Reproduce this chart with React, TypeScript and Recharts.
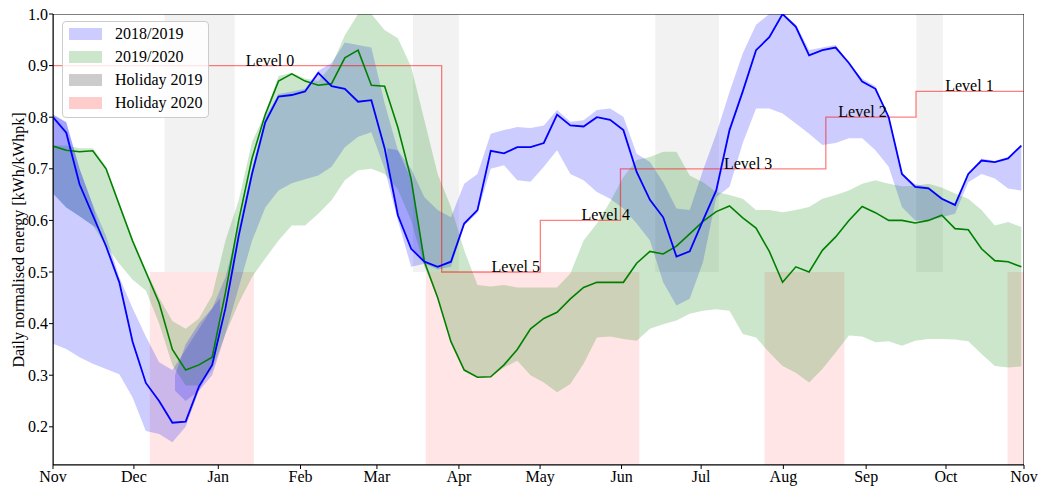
import React from "react"
import { ComposedChart, Area, Line, XAxis, YAxis, ReferenceArea, ReferenceDot } from "recharts"

// day 0 = 1 Nov, one sample every 5 days
const sampleDays = Array.from({ length: 74 }, (_, i) => i * 5)

// month tick positions (days from left edge)
const monthTicks = [0, 30.5, 62.3, 93.3, 122.1, 153, 183.6, 214.3, 244.3, 275.3, 306.5, 336.6, 366]
const monthLabels = ["Nov", "Dec", "Jan", "Feb", "Mar", "Apr", "May", "Jun", "Jul", "Aug", "Sep", "Oct", "Nov"]
const yTicks = [0.2, 0.3, 0.4, 0.5, 0.6, 0.7, 0.8, 0.9, 1.0]

const line2019 = [
  0.80, 0.77, 0.67, 0.61, 0.55, 0.48, 0.365, 0.285, 0.25, 0.208,
  0.21, 0.278, 0.32, 0.43, 0.57, 0.69, 0.79, 0.84, 0.843, 0.85,
  0.886, 0.86, 0.855, 0.83, 0.833, 0.74, 0.61, 0.545, 0.52, 0.51,
  0.52, 0.594, 0.62, 0.735, 0.73, 0.742, 0.742, 0.75, 0.805, 0.784,
  0.782, 0.80, 0.795, 0.775, 0.694, 0.64, 0.606, 0.53, 0.54, 0.60,
  0.658, 0.775, 0.85, 0.93, 0.955, 1.0, 0.975, 0.92, 0.93, 0.935,
  0.905, 0.869, 0.855, 0.80, 0.69, 0.665, 0.662, 0.642, 0.63, 0.69,
  0.716, 0.713, 0.72, 0.745,
]
const line2020 = [
  0.744, 0.736, 0.733, 0.735, 0.70, 0.63, 0.56, 0.50, 0.44, 0.35,
  0.31, 0.32, 0.335, 0.46, 0.60, 0.72, 0.805, 0.87, 0.884, 0.87,
  0.862, 0.865, 0.915, 0.93, 0.862, 0.86, 0.78, 0.68, 0.52, 0.45,
  0.365, 0.31, 0.296, 0.297, 0.32, 0.35, 0.39, 0.41, 0.422, 0.448,
  0.47, 0.48, 0.48, 0.48, 0.517, 0.54, 0.535, 0.55, 0.574, 0.598,
  0.617, 0.628, 0.605, 0.585, 0.54, 0.48, 0.51, 0.50, 0.542, 0.568,
  0.60, 0.627, 0.615, 0.60, 0.60, 0.595, 0.60, 0.61, 0.584, 0.582,
  0.545, 0.522, 0.52, 0.51,
]
const hi2019 = [
  0.805, 0.79, 0.70, 0.63, 0.57, 0.49, 0.43, 0.375, 0.325, 0.31,
  0.35, 0.39, 0.43, 0.49, 0.59, 0.70, 0.80, 0.845, 0.85, 0.855,
  0.89, 0.905, 0.945, 0.94, 0.935, 0.827, 0.736, 0.70, 0.645, 0.62,
  0.606, 0.671, 0.69, 0.768, 0.775, 0.781, 0.779, 0.784, 0.814, 0.791,
  0.794, 0.814, 0.817, 0.801, 0.729, 0.713, 0.674, 0.623, 0.62, 0.697,
  0.768, 0.849, 0.924, 0.979, 1.0, 1.0, 0.98, 0.93, 0.935, 0.94,
  0.905, 0.875, 0.86, 0.80, 0.69, 0.67, 0.665, 0.645, 0.63, 0.69,
  0.72, 0.715, 0.723, 0.746,
]
const lo2019 = [
  0.361, 0.351, 0.335, 0.322, 0.312, 0.302, 0.257, 0.192, 0.186, 0.17,
  0.20, 0.27, 0.30, 0.38, 0.47, 0.56, 0.625, 0.658, 0.672, 0.68,
  0.687, 0.704, 0.742, 0.762, 0.771, 0.70, 0.60, 0.51, 0.516, 0.505,
  0.51, 0.59, 0.615, 0.70, 0.707, 0.678, 0.675, 0.704, 0.736, 0.69,
  0.678, 0.655, 0.642, 0.623, 0.594, 0.561, 0.48, 0.435, 0.448, 0.519,
  0.645, 0.665, 0.75, 0.817, 0.817, 0.807, 0.788, 0.768, 0.746, 0.75,
  0.759, 0.759, 0.736, 0.704, 0.626, 0.60, 0.60, 0.606, 0.613, 0.674,
  0.69, 0.681, 0.662, 0.658,
]
const hi2020 = [
  0.745, 0.745, 0.74, 0.74, 0.705, 0.635, 0.565, 0.505, 0.45, 0.405,
  0.39, 0.41, 0.455, 0.561, 0.639, 0.752, 0.807, 0.88, 0.886, 0.875,
  0.87, 0.90, 0.959, 1.0, 1.0, 0.969, 0.953, 0.898, 0.794, 0.69,
  0.626, 0.542, 0.475, 0.472, 0.475, 0.47, 0.47, 0.47, 0.47, 0.497,
  0.561, 0.594, 0.636, 0.684, 0.717, 0.723, 0.733, 0.733, 0.687, 0.674,
  0.655, 0.649, 0.642, 0.62, 0.62, 0.616, 0.62, 0.626, 0.642, 0.649,
  0.658, 0.671, 0.678, 0.671, 0.666, 0.667, 0.671, 0.664, 0.652, 0.642,
  0.62, 0.59, 0.597, 0.587,
]
const lo2020 = [
  0.652, 0.625, 0.608, 0.59, 0.551, 0.516, 0.485, 0.464, 0.40, 0.32,
  0.28, 0.28, 0.31, 0.38, 0.44, 0.49, 0.526, 0.561, 0.59, 0.59,
  0.613, 0.639, 0.678, 0.697, 0.70, 0.69, 0.66, 0.60, 0.51, 0.45,
  0.365, 0.31, 0.296, 0.297, 0.315, 0.328, 0.30, 0.286, 0.267, 0.283,
  0.322, 0.373, 0.375, 0.37, 0.367, 0.39, 0.399, 0.406, 0.419, 0.425,
  0.428, 0.425, 0.38, 0.373, 0.344, 0.318, 0.305, 0.286, 0.312, 0.344,
  0.377, 0.375, 0.364, 0.366, 0.357, 0.367, 0.37, 0.37, 0.369, 0.366,
  0.341, 0.318, 0.315, 0.317,
]

// stretches where the 2018/2019 band is drawn twice (darker blue)
const overlapDaysA = [0, 5, 10, 15, 17]
const overlapLoA = [0.652, 0.625, 0.608, 0.59, 0.584]
const overlapHiA = [0.805, 0.79, 0.70, 0.63, 0.59]
const overlapDaysB = [46, 50, 55, 60, 63]
const overlapLoB = [0.27, 0.25, 0.27, 0.32, 0.38]
const overlapHiB = [0.30, 0.36, 0.40, 0.43, 0.45]
const overlapDaysC = [126, 130, 135, 140]
const overlapLoC = [0.70, 0.61, 0.545, 0.52]
const overlapHiC = [0.74, 0.736, 0.68, 0.525]

// lockdown levels (start day, value)
const levelDays = [0, 146.5, 183.7, 213.9, 291.3, 325.3]
const levelValues = [0.9, 0.5, 0.6, 0.7, 0.8, 0.85]
const levelNames = ["Level 0", "Level 5", "Level 4", "Level 3", "Level 2", "Level 1"]
const levelLabelDays = [72.7, 165.3, 199.2, 252.9, 296, 336.3]

const holiday2019 = [[42, 68.5], [135.7, 153], [227, 251], [325.4, 335.4]]
const holiday2020 = [[36.5, 75.7], [140.5, 221], [268.2, 298.3], [359.8, 366]]

const Y_MIN = 0.126
const FONT = '"Liberation Serif", "Times New Roman", serif'

const rows = sampleDays.map((d, i) => ({
  day: d,
  y2019: line2019[i],
  y2020: line2020[i],
  band2019: [lo2019[i], hi2019[i]],
  band2020: [lo2020[i], hi2020[i]],
}))

const overlapSegments = [
  [overlapDaysA, overlapLoA, overlapHiA],
  [overlapDaysB, overlapLoB, overlapHiB],
  [overlapDaysC, overlapLoC, overlapHiC],
].map(([days, lo, hi]) => days.map((d, i) => ({ day: d, band: [lo[i], hi[i]] })))

const levelData = [
  ...levelDays.map((d, i) => ({ day: d, level: levelValues[i] })),
  { day: 366, level: levelValues[levelValues.length - 1] },
]

const legendItems = [
  { label: "2018/2019", color: "#ccccff" },
  { label: "2019/2020", color: "#cce6cc" },
  { label: "Holiday 2019", color: "#cccccc" },
  { label: "Holiday 2020", color: "#ffcccc" },
]

function LevelText(props: any) {
  return (
    <text x={props.cx} y={props.cy} fontFamily={FONT} fontSize={16} fill="#000" textAnchor="start">
      {props.name}
    </text>
  )
}

function YLabel() {
  const cx = 18
  const cy = 240
  return (
    <text x={cx} y={cy} transform={`rotate(-90 ${cx} ${cy})`} textAnchor="middle" dominantBaseline="central" fontFamily={FONT} fontSize={16} fill="#000">
      Daily normalised energy [kWh/kWhpk]
    </text>
  )
}

export default function App() {
  const tickStyle = { fill: "#000", fontSize: 16, fontFamily: FONT }
  return (
    <div style={{ position: "absolute", left: 0, top: 0, width: 1041, height: 489, background: "#fff" }}>
      <ComposedChart width={1041} height={489} data={rows} margin={{ top: 14, right: 17, bottom: 0, left: 0 }}>
        <XAxis
          dataKey="day"
          type="number"
          domain={[0, 366]}
          ticks={monthTicks}
          interval={0}
          tickFormatter={(v) => monthLabels[monthTicks.indexOf(v)]}
          height={24}
          tickSize={4}
          tickMargin={2}
          tick={tickStyle}
          stroke="#000"
          allowDataOverflow
        />
        <YAxis
          type="number"
          domain={[Y_MIN, 1]}
          ticks={yTicks}
          tickFormatter={(v) => v.toFixed(1)}
          width={53}
          tickSize={4}
          tickMargin={1}
          tick={tickStyle}
          stroke="#000"
          allowDataOverflow
          label={{ content: () => <YLabel /> }}
        />
        {holiday2020.map(([a, b], i) => (
          <ReferenceArea key={"h20" + i} x1={a} x2={b} y1={Y_MIN} y2={0.5} fill="red" fillOpacity={0.1} stroke="none" ifOverflow="hidden" />
        ))}
        {holiday2019.map(([a, b], i) => (
          <ReferenceArea key={"h19" + i} x1={a} x2={b} y1={0.5} y2={1} fill="grey" fillOpacity={0.1} stroke="none" ifOverflow="hidden" />
        ))}
        <Area dataKey="band2019" type="linear" stroke="none" fill="blue" fillOpacity={0.2} dot={false} activeDot={false} isAnimationActive={false} />
        <Area dataKey="band2020" type="linear" stroke="none" fill="green" fillOpacity={0.2} dot={false} activeDot={false} isAnimationActive={false} />
        {overlapSegments.map((seg, i) => (
          <Area key={"ov" + i} data={seg} dataKey="band" type="linear" stroke="none" fill="blue" fillOpacity={0.2} dot={false} activeDot={false} isAnimationActive={false} />
        ))}
        <Line data={levelData} dataKey="level" type="stepAfter" stroke="red" strokeOpacity={0.5} strokeWidth={1.3} dot={false} activeDot={false} isAnimationActive={false} />
        <Line dataKey="y2020" type="linear" stroke="green" strokeWidth={1.6} dot={false} activeDot={false} isAnimationActive={false} />
        <Line dataKey="y2019" type="linear" stroke="blue" strokeWidth={1.8} dot={false} activeDot={false} isAnimationActive={false} />
        {levelNames.map((n, i) => (
          <ReferenceDot key={n} x={levelLabelDays[i]} y={levelValues[i]} r={0} shape={(p: any) => <LevelText {...p} name={n} />} />
        ))}
        <ReferenceArea x1={0} x2={366} y1={Y_MIN} y2={1} fill="none" stroke="#000" strokeWidth={1} ifOverflow="hidden" />
      </ComposedChart>
      <div
        style={{
          position: "absolute",
          left: 62,
          top: 21,
          width: 147,
          height: 97,
          boxSizing: "border-box",
          background: "rgba(255,255,255,0.8)",
          border: "1px solid #cccccc",
          borderRadius: 4,
          fontFamily: FONT,
          fontSize: 16,
          color: "#000",
        }}
      >
        {legendItems.map((it, i) => (
          <div key={it.label} style={{ position: "absolute", left: 6, top: 6 + i * 23, height: 12, display: "flex", alignItems: "center", whiteSpace: "nowrap" }}>
            <span style={{ display: "inline-block", width: 33, height: 12, background: it.color }} />
            <span style={{ marginLeft: 13, lineHeight: "12px" }}>{it.label}</span>
          </div>
        ))}
      </div>
    </div>
  )
}
